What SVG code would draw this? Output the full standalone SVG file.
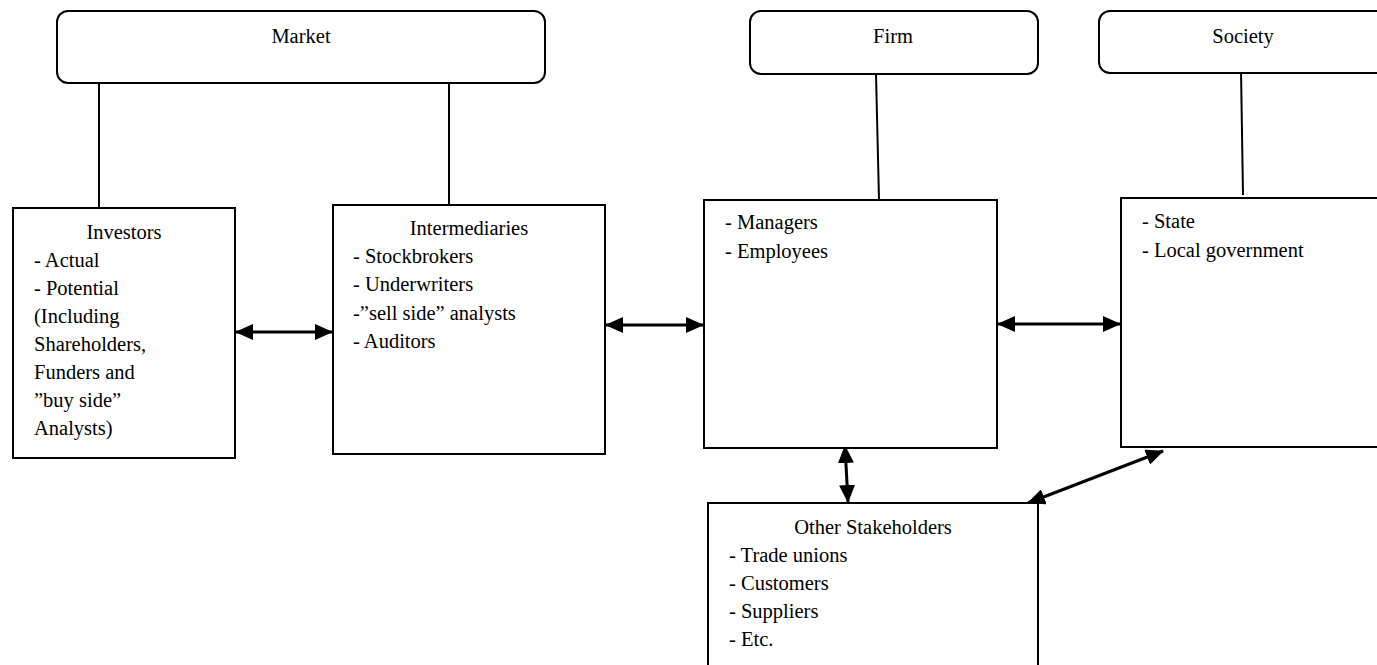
<svg xmlns="http://www.w3.org/2000/svg" width="1377" height="665" viewBox="0 0 1377 665">
<defs>
<style>
.box{fill:#fff;stroke:#000;stroke-width:2}
.hdr{fill:#fff;stroke:#000;stroke-width:2}
.ln{stroke:#000;stroke-width:2;fill:none}
.arr{stroke:#000;stroke-width:3;fill:none;marker-start:url(#ah);marker-end:url(#ah)}
text{font-family:"Liberation Serif","Times New Roman",serif;font-size:20.5px;fill:#000}
.c{text-anchor:middle}
</style>
<marker id="ah" viewBox="0 0 18 16" refX="17" refY="8" markerWidth="18" markerHeight="16" markerUnits="userSpaceOnUse" orient="auto-start-reverse">
<path d="M0,0 L18,8 L0,16 Z" fill="#000"/>
</marker>
</defs>
<rect width="1377" height="665" fill="#fff"/>
<g id="connectors">
<line class="ln" x1="99" y1="83" x2="99" y2="208"/>
<line class="ln" x1="449" y1="83" x2="449" y2="205"/>
<line class="ln" x1="876" y1="74" x2="879" y2="200"/>
<line class="ln" x1="1241" y1="70" x2="1243" y2="195"/>
<line class="arr" x1="236" y1="332" x2="332" y2="332"/>
<line class="arr" x1="606" y1="325" x2="703" y2="325"/>
<line class="arr" x1="998" y1="324" x2="1120" y2="324"/>
<line class="arr" x1="845" y1="446" x2="848" y2="502"/>
<line class="arr" x1="1028" y1="503" x2="1163" y2="451"/>
</g>
<g id="market">
<rect class="hdr" x="57" y="11" width="488" height="72" rx="11"/>
<text class="c" x="301" y="43">Market</text>
</g>
<g id="firm">
<rect class="hdr" x="750" y="11" width="288" height="63" rx="11"/>
<text class="c" x="893" y="43">Firm</text>
</g>
<g id="society">
<rect class="hdr" x="1099" y="11" width="300" height="62" rx="11"/>
<text class="c" x="1243" y="43">Society</text>
</g>
<g id="investors">
<rect class="box" x="13" y="208" width="222" height="250"/>
<text class="c" x="124" y="239">Investors</text>
<text x="34" y="267">- Actual</text>
<text x="34" y="295">- Potential</text>
<text x="34" y="323">(Including</text>
<text x="34" y="351">Shareholders,</text>
<text x="34" y="379">Funders and</text>
<text x="34" y="407">”buy side”</text>
<text x="34" y="435">Analysts)</text>
</g>
<g id="intermediaries">
<rect class="box" x="333" y="205" width="272" height="249"/>
<text class="c" x="469" y="235">Intermediaries</text>
<text x="353" y="263">- Stockbrokers</text>
<text x="353" y="291">- Underwriters</text>
<text x="353" y="320">-”sell side” analysts</text>
<text x="353" y="348">- Auditors</text>
</g>
<g id="firm-members">
<rect class="box" x="704" y="200" width="293" height="248"/>
<text x="725" y="229">- Managers</text>
<text x="725" y="258">- Employees</text>
</g>
<g id="society-members">
<rect class="box" x="1121" y="198" width="280" height="249"/>
<text x="1142" y="228">- State</text>
<text x="1142" y="257">- Local government</text>
</g>
<g id="other-stakeholders">
<rect class="box" x="708" y="503" width="330" height="180"/>
<text class="c" x="873" y="534">Other Stakeholders</text>
<text x="729" y="562">- Trade unions</text>
<text x="729" y="590">- Customers</text>
<text x="729" y="618">- Suppliers</text>
<text x="729" y="646">- Etc.</text>
</g>
</svg>
